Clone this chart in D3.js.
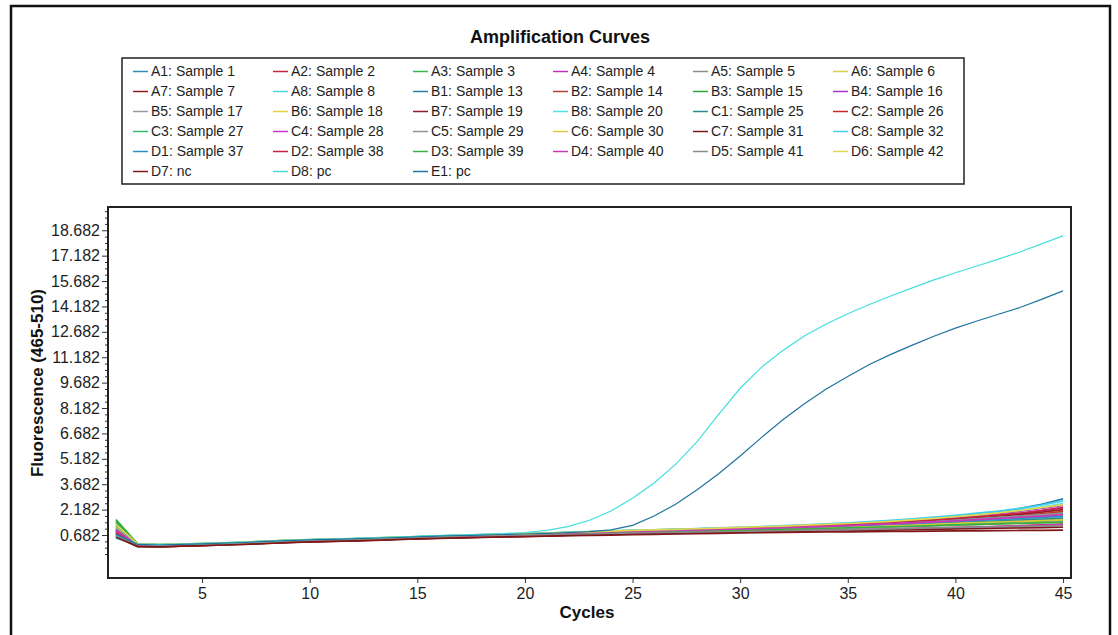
<!DOCTYPE html>
<html>
<head>
<meta charset="utf-8">
<script src="https://cdn.jsdelivr.net/npm/d3@7"></script>
<style>
  html, body { margin: 0; padding: 0; background: #fff; }
  svg { display: block; font-family: Arial, "Liberation Sans", sans-serif; }
  .tk text { font-size: 16px; fill: #1e1e1e; }
  .tk line { stroke: #333; }
  .tk path { display: none; }
</style>
</head>
<body>
<svg id="chart" width="1118" height="635"></svg>
<script>
// cycle numbers and axis ticks
const cycles = [1, 2, 3, 4, 5, 6, 7, 8, 9, 10, 11, 12, 13, 14, 15, 16, 17, 18, 19, 20, 21, 22, 23,
  24, 25, 26, 27, 28, 29, 30, 31, 32, 33, 34, 35, 36, 37, 38, 39, 40, 41, 42, 43, 44, 45];
const xTicks = [5, 10, 15, 20, 25, 30, 35, 40, 45];
const yTicks = [0.682, 2.182, 3.682, 5.182, 6.682, 8.182, 9.682, 11.182, 12.682, 14.182, 15.682, 17.182, 18.682];

const wells = ['A1: Sample 1', 'A2: Sample 2', 'A3: Sample 3', 'A4: Sample 4', 'A5: Sample 5', 'A6: Sample 6',
  'A7: Sample 7', 'A8: Sample 8', 'B1: Sample 13', 'B2: Sample 14', 'B3: Sample 15', 'B4: Sample 16',
  'B5: Sample 17', 'B6: Sample 18', 'B7: Sample 19', 'B8: Sample 20', 'C1: Sample 25', 'C2: Sample 26',
  'C3: Sample 27', 'C4: Sample 28', 'C5: Sample 29', 'C6: Sample 30', 'C7: Sample 31', 'C8: Sample 32',
  'D1: Sample 37', 'D2: Sample 38', 'D3: Sample 39', 'D4: Sample 40', 'D5: Sample 41', 'D6: Sample 42',
  'D7: nc', 'D8: pc', 'E1: pc'];

// fluorescence per cycle, one array per well
const A1 = [1.12, 0.12, 0.08, 0.12, 0.14, 0.19, 0.22, 0.28, 0.33, 0.38, 0.41, 0.43, 0.47, 0.51, 0.56,
  0.59, 0.63, 0.66, 0.69, 0.72, 0.76, 0.8, 0.84, 0.88, 0.92, 0.95, 0.98, 1.01, 1.03, 1.06,
  1.09, 1.12, 1.15, 1.18, 1.22, 1.26, 1.31, 1.37, 1.43, 1.5, 1.58, 1.67, 1.77, 1.88, 2.0];
const A2 = [0.85, 0.05, 0.02, 0.06, 0.09, 0.13, 0.17, 0.22, 0.27, 0.31, 0.34, 0.36, 0.4, 0.44, 0.48,
  0.51, 0.54, 0.57, 0.6, 0.62, 0.65, 0.68, 0.71, 0.74, 0.77, 0.8, 0.82, 0.84, 0.86, 0.88,
  0.9, 0.92, 0.94, 0.96, 0.98, 1.0, 1.03, 1.06, 1.09, 1.12, 1.15, 1.19, 1.23, 1.28, 1.33];
const A3 = [1.3, 0.15, 0.1, 0.14, 0.17, 0.21, 0.25, 0.31, 0.36, 0.4, 0.43, 0.46, 0.5, 0.54, 0.58,
  0.62, 0.66, 0.69, 0.72, 0.75, 0.79, 0.83, 0.87, 0.9, 0.94, 0.97, 1.0, 1.02, 1.04, 1.06,
  1.08, 1.11, 1.14, 1.17, 1.2, 1.24, 1.29, 1.34, 1.4, 1.46, 1.53, 1.6, 1.68, 1.76, 1.85];
const A4 = [0.95, 0.08, 0.04, 0.09, 0.12, 0.16, 0.2, 0.26, 0.31, 0.35, 0.39, 0.41, 0.45, 0.49, 0.53,
  0.57, 0.6, 0.64, 0.67, 0.7, 0.74, 0.78, 0.82, 0.86, 0.9, 0.93, 0.96, 0.99, 1.02, 1.05,
  1.08, 1.12, 1.16, 1.2, 1.25, 1.3, 1.36, 1.43, 1.5, 1.58, 1.67, 1.8, 1.95, 2.12, 2.3];
const A5 = [0.7, 0.1, 0.06, 0.1, 0.13, 0.17, 0.21, 0.27, 0.32, 0.36, 0.4, 0.42, 0.46, 0.5, 0.54,
  0.58, 0.61, 0.65, 0.68, 0.71, 0.74, 0.78, 0.82, 0.85, 0.89, 0.92, 0.95, 0.97, 0.99, 1.01,
  1.03, 1.06, 1.09, 1.12, 1.15, 1.18, 1.22, 1.26, 1.31, 1.36, 1.41, 1.46, 1.51, 1.56, 1.61];
const A6 = [1.45, 0.18, 0.12, 0.15, 0.18, 0.22, 0.26, 0.32, 0.37, 0.41, 0.44, 0.47, 0.51, 0.55, 0.59,
  0.63, 0.67, 0.7, 0.73, 0.76, 0.8, 0.84, 0.88, 0.91, 0.95, 0.98, 1.01, 1.04, 1.07, 1.1,
  1.13, 1.17, 1.21, 1.25, 1.3, 1.35, 1.41, 1.47, 1.54, 1.62, 1.7, 1.79, 1.89, 2.0, 2.12];
const A7 = [0.6, 0.02, -0.01, 0.03, 0.07, 0.11, 0.15, 0.2, 0.25, 0.29, 0.32, 0.35, 0.39, 0.43, 0.47,
  0.5, 0.53, 0.56, 0.59, 0.61, 0.64, 0.67, 0.7, 0.73, 0.76, 0.78, 0.8, 0.82, 0.84, 0.86,
  0.88, 0.9, 0.92, 0.94, 0.96, 0.98, 1.0, 1.03, 1.06, 1.09, 1.12, 1.15, 1.18, 1.21, 1.25];
const A8 = [0.5, 0.12, 0.09, 0.13, 0.16, 0.2, 0.24, 0.29, 0.34, 0.38, 0.42, 0.44, 0.48, 0.52, 0.56,
  0.6, 0.64, 0.67, 0.7, 0.73, 0.77, 0.81, 0.85, 0.88, 0.92, 0.95, 0.98, 1.0, 1.02, 1.04,
  1.06, 1.09, 1.12, 1.15, 1.18, 1.22, 1.26, 1.31, 1.36, 1.42, 1.48, 1.54, 1.6, 1.66, 1.72];
const B1 = [1.0, 0.14, 0.1, 0.13, 0.16, 0.2, 0.24, 0.3, 0.35, 0.39, 0.42, 0.45, 0.49, 0.53, 0.57,
  0.61, 0.65, 0.68, 0.71, 0.74, 0.78, 0.82, 0.86, 0.9, 0.94, 0.97, 1.0, 1.03, 1.06, 1.09,
  1.13, 1.17, 1.22, 1.27, 1.33, 1.39, 1.47, 1.56, 1.66, 1.77, 1.9, 2.05, 2.25, 2.5, 2.82];
const B2 = [0.78, 0.06, 0.03, 0.08, 0.11, 0.15, 0.19, 0.25, 0.3, 0.34, 0.38, 0.4, 0.44, 0.48, 0.52,
  0.56, 0.59, 0.63, 0.66, 0.69, 0.73, 0.77, 0.81, 0.85, 0.88, 0.91, 0.94, 0.97, 1.0, 1.03,
  1.06, 1.1, 1.14, 1.18, 1.23, 1.28, 1.34, 1.4, 1.47, 1.54, 1.61, 1.68, 1.76, 1.85, 1.95];
const B3 = [1.6, 0.16, 0.08, 0.11, 0.14, 0.18, 0.22, 0.28, 0.33, 0.37, 0.4, 0.43, 0.47, 0.51, 0.55,
  0.59, 0.62, 0.66, 0.69, 0.72, 0.75, 0.79, 0.83, 0.86, 0.89, 0.92, 0.94, 0.96, 0.98, 1.0,
  1.02, 1.05, 1.08, 1.11, 1.14, 1.17, 1.21, 1.25, 1.29, 1.33, 1.37, 1.41, 1.45, 1.49, 1.53];
const B4 = [0.88, 0.09, 0.05, 0.1, 0.13, 0.17, 0.21, 0.27, 0.32, 0.36, 0.4, 0.42, 0.46, 0.5, 0.54,
  0.58, 0.62, 0.65, 0.68, 0.71, 0.75, 0.79, 0.83, 0.87, 0.91, 0.94, 0.97, 1.0, 1.04, 1.08,
  1.12, 1.16, 1.21, 1.26, 1.32, 1.38, 1.45, 1.53, 1.62, 1.72, 1.83, 1.95, 2.09, 2.25, 2.43];
const B5 = [0.65, 0.04, 0.01, 0.06, 0.09, 0.13, 0.17, 0.23, 0.28, 0.32, 0.36, 0.38, 0.42, 0.46, 0.5,
  0.54, 0.57, 0.6, 0.63, 0.66, 0.69, 0.72, 0.75, 0.78, 0.81, 0.84, 0.86, 0.88, 0.9, 0.92,
  0.95, 0.98, 1.01, 1.04, 1.07, 1.1, 1.14, 1.18, 1.22, 1.26, 1.3, 1.34, 1.38, 1.42, 1.46];
const B6 = [1.2, 0.13, 0.09, 0.12, 0.15, 0.19, 0.23, 0.29, 0.34, 0.38, 0.41, 0.44, 0.48, 0.52, 0.56,
  0.6, 0.63, 0.67, 0.7, 0.73, 0.76, 0.8, 0.84, 0.88, 0.92, 0.95, 0.98, 1.01, 1.04, 1.07,
  1.1, 1.13, 1.16, 1.2, 1.24, 1.28, 1.33, 1.38, 1.44, 1.5, 1.56, 1.62, 1.68, 1.74, 1.8];
const B7 = [0.92, 0.07, 0.03, 0.07, 0.1, 0.14, 0.18, 0.24, 0.29, 0.33, 0.37, 0.39, 0.43, 0.47, 0.51,
  0.55, 0.58, 0.62, 0.65, 0.68, 0.72, 0.76, 0.8, 0.84, 0.88, 0.91, 0.94, 0.98, 1.02, 1.06,
  1.1, 1.14, 1.18, 1.22, 1.27, 1.32, 1.38, 1.45, 1.52, 1.6, 1.69, 1.79, 1.9, 2.03, 2.18];
const B8 = [0.55, 0.15, 0.11, 0.14, 0.17, 0.21, 0.25, 0.31, 0.36, 0.4, 0.43, 0.46, 0.5, 0.54, 0.58,
  0.62, 0.66, 0.69, 0.72, 0.75, 0.79, 0.83, 0.87, 0.91, 0.95, 0.98, 1.01, 1.05, 1.09, 1.13,
  1.17, 1.21, 1.26, 1.31, 1.37, 1.43, 1.5, 1.58, 1.67, 1.77, 1.88, 2.01, 2.15, 2.32, 2.55];
const C1 = [1.05, 0.11, 0.07, 0.11, 0.14, 0.18, 0.22, 0.28, 0.33, 0.37, 0.41, 0.43, 0.47, 0.51, 0.55,
  0.59, 0.62, 0.66, 0.69, 0.72, 0.76, 0.8, 0.84, 0.87, 0.91, 0.94, 0.97, 0.99, 1.01, 1.03,
  1.05, 1.08, 1.11, 1.14, 1.17, 1.21, 1.25, 1.3, 1.35, 1.41, 1.46, 1.51, 1.56, 1.61, 1.66];
const C2 = [0.75, 0.05, 0.02, 0.07, 0.1, 0.14, 0.18, 0.24, 0.29, 0.33, 0.37, 0.39, 0.43, 0.47, 0.51,
  0.55, 0.58, 0.62, 0.65, 0.68, 0.71, 0.75, 0.79, 0.83, 0.87, 0.9, 0.93, 0.96, 0.99, 1.02,
  1.05, 1.09, 1.13, 1.17, 1.22, 1.27, 1.33, 1.39, 1.46, 1.54, 1.62, 1.71, 1.81, 1.93, 2.07];
const C3 = [1.4, 0.17, 0.1, 0.13, 0.16, 0.2, 0.24, 0.3, 0.35, 0.39, 0.42, 0.45, 0.49, 0.53, 0.57,
  0.61, 0.65, 0.68, 0.71, 0.74, 0.78, 0.82, 0.86, 0.89, 0.93, 0.96, 0.99, 1.02, 1.05, 1.08,
  1.11, 1.15, 1.19, 1.23, 1.28, 1.33, 1.39, 1.45, 1.51, 1.58, 1.65, 1.72, 1.79, 1.86, 1.94];
const C4 = [0.9, 0.06, 0.02, 0.05, 0.08, 0.12, 0.16, 0.21, 0.26, 0.3, 0.33, 0.36, 0.4, 0.44, 0.48,
  0.51, 0.54, 0.57, 0.6, 0.63, 0.66, 0.69, 0.72, 0.75, 0.78, 0.8, 0.82, 0.84, 0.86, 0.88,
  0.9, 0.92, 0.94, 0.96, 0.98, 1.0, 1.03, 1.06, 1.09, 1.12, 1.15, 1.18, 1.21, 1.25, 1.29];
const C5 = [0.82, 0.1, 0.06, 0.1, 0.13, 0.17, 0.21, 0.27, 0.32, 0.36, 0.4, 0.42, 0.46, 0.5, 0.54,
  0.58, 0.61, 0.65, 0.68, 0.71, 0.74, 0.78, 0.82, 0.86, 0.9, 0.93, 0.96, 0.99, 1.02, 1.05,
  1.08, 1.12, 1.16, 1.2, 1.25, 1.3, 1.36, 1.42, 1.49, 1.56, 1.63, 1.71, 1.79, 1.88, 1.98];
const C6 = [1.15, 0.14, 0.09, 0.12, 0.15, 0.19, 0.23, 0.29, 0.34, 0.38, 0.41, 0.44, 0.48, 0.52, 0.56,
  0.6, 0.63, 0.67, 0.7, 0.73, 0.76, 0.8, 0.84, 0.87, 0.9, 0.93, 0.95, 0.97, 0.99, 1.01,
  1.03, 1.06, 1.09, 1.12, 1.15, 1.19, 1.23, 1.27, 1.32, 1.37, 1.41, 1.45, 1.49, 1.53, 1.57];
const C7 = [0.62, 0.0, -0.02, 0.02, 0.06, 0.1, 0.14, 0.19, 0.24, 0.28, 0.31, 0.34, 0.38, 0.42, 0.46,
  0.49, 0.52, 0.55, 0.58, 0.6, 0.63, 0.66, 0.69, 0.72, 0.74, 0.76, 0.78, 0.8, 0.82, 0.84,
  0.86, 0.88, 0.9, 0.92, 0.94, 0.96, 0.98, 1.0, 1.02, 1.04, 1.06, 1.08, 1.1, 1.12, 1.14];
const C8 = [0.6, 0.16, 0.12, 0.15, 0.18, 0.22, 0.26, 0.32, 0.37, 0.41, 0.44, 0.47, 0.51, 0.55, 0.59,
  0.63, 0.67, 0.7, 0.73, 0.76, 0.8, 0.84, 0.88, 0.92, 0.96, 0.99, 1.02, 1.06, 1.1, 1.14,
  1.18, 1.23, 1.28, 1.34, 1.4, 1.47, 1.55, 1.64, 1.74, 1.85, 1.97, 2.1, 2.25, 2.45, 2.7];
const D1 = [1.25, 0.12, 0.07, 0.11, 0.14, 0.18, 0.22, 0.28, 0.33, 0.37, 0.4, 0.43, 0.47, 0.51, 0.55,
  0.59, 0.63, 0.66, 0.69, 0.72, 0.76, 0.8, 0.84, 0.88, 0.91, 0.94, 0.97, 1.0, 1.03, 1.06,
  1.09, 1.12, 1.15, 1.19, 1.23, 1.27, 1.32, 1.37, 1.42, 1.48, 1.54, 1.6, 1.66, 1.72, 1.78];
const D2 = [0.8, 0.08, 0.04, 0.08, 0.11, 0.15, 0.19, 0.25, 0.3, 0.34, 0.38, 0.4, 0.44, 0.48, 0.52,
  0.56, 0.6, 0.63, 0.66, 0.69, 0.73, 0.77, 0.81, 0.85, 0.89, 0.92, 0.95, 0.99, 1.03, 1.07,
  1.11, 1.15, 1.2, 1.25, 1.3, 1.36, 1.43, 1.5, 1.58, 1.66, 1.75, 1.86, 1.98, 2.12, 2.3];
const D3 = [1.5, 0.14, 0.07, 0.1, 0.13, 0.17, 0.21, 0.27, 0.32, 0.36, 0.39, 0.42, 0.46, 0.5, 0.54,
  0.58, 0.61, 0.64, 0.67, 0.7, 0.73, 0.77, 0.8, 0.83, 0.86, 0.89, 0.91, 0.93, 0.95, 0.97,
  0.99, 1.02, 1.05, 1.08, 1.11, 1.14, 1.17, 1.2, 1.24, 1.28, 1.31, 1.34, 1.37, 1.4, 1.43];
const D4 = [0.98, 0.09, 0.05, 0.09, 0.12, 0.16, 0.2, 0.26, 0.31, 0.35, 0.39, 0.41, 0.45, 0.49, 0.53,
  0.57, 0.6, 0.64, 0.67, 0.7, 0.74, 0.78, 0.82, 0.86, 0.89, 0.92, 0.95, 0.98, 1.01, 1.04,
  1.07, 1.11, 1.15, 1.19, 1.24, 1.29, 1.34, 1.4, 1.46, 1.52, 1.59, 1.66, 1.73, 1.8, 1.88];
const D5 = [0.68, 0.03, 0.0, 0.04, 0.08, 0.12, 0.16, 0.21, 0.26, 0.3, 0.34, 0.37, 0.41, 0.45, 0.49,
  0.52, 0.55, 0.58, 0.61, 0.64, 0.67, 0.7, 0.73, 0.76, 0.79, 0.81, 0.83, 0.85, 0.87, 0.89,
  0.91, 0.93, 0.95, 0.97, 0.99, 1.01, 1.04, 1.07, 1.1, 1.13, 1.15, 1.17, 1.19, 1.21, 1.23];
const D6 = [1.3, 0.15, 0.11, 0.14, 0.17, 0.21, 0.25, 0.31, 0.36, 0.4, 0.43, 0.46, 0.5, 0.54, 0.58,
  0.62, 0.66, 0.69, 0.72, 0.75, 0.79, 0.83, 0.87, 0.91, 0.95, 0.98, 1.01, 1.05, 1.09, 1.13,
  1.17, 1.21, 1.26, 1.31, 1.36, 1.42, 1.49, 1.57, 1.66, 1.76, 1.87, 1.99, 2.13, 2.3, 2.48];
const D7 = [0.55, 0.01, -0.02, 0.02, 0.05, 0.09, 0.13, 0.18, 0.23, 0.27, 0.3, 0.33, 0.37, 0.41, 0.45,
  0.48, 0.51, 0.54, 0.57, 0.59, 0.62, 0.64, 0.66, 0.68, 0.7, 0.72, 0.74, 0.76, 0.78, 0.8,
  0.82, 0.84, 0.85, 0.86, 0.87, 0.88, 0.89, 0.9, 0.91, 0.92, 0.93, 0.94, 0.95, 0.96, 0.97];
const D8 = [0.7, 0.14, 0.1, 0.14, 0.17, 0.21, 0.25, 0.31, 0.36, 0.4, 0.44, 0.47, 0.51, 0.55, 0.6,
  0.64, 0.68, 0.72, 0.77, 0.83, 0.95, 1.18, 1.55, 2.1, 2.85, 3.75, 4.85, 6.2, 7.8, 9.35,
  10.6, 11.6, 12.45, 13.15, 13.75, 14.3, 14.8, 15.28, 15.75, 16.17, 16.57, 16.98, 17.4, 17.88, 18.35];
const E1 = [0.72, 0.13, 0.09, 0.13, 0.16, 0.2, 0.24, 0.3, 0.35, 0.39, 0.42, 0.45, 0.49, 0.53, 0.57,
  0.61, 0.65, 0.68, 0.71, 0.74, 0.78, 0.82, 0.88, 0.98, 1.25, 1.8, 2.5, 3.35, 4.3, 5.35,
  6.45, 7.5, 8.45, 9.3, 10.05, 10.75, 11.35, 11.9, 12.42, 12.9, 13.32, 13.72, 14.12, 14.6, 15.1];

const series = [A1, A2, A3, A4, A5, A6, A7, A8, B1, B2, B3, B4, B5, B6, B7, B8,
  C1, C2, C3, C4, C5, C6, C7, C8, D1, D2, D3, D4, D5, D6, D7, D8, E1];

const colors = ['#2d8db4', '#c42a3a', '#33b552', '#c030c0', '#8c8c8c', '#dccf4a', '#8a1c24', '#4ad8e4',
  '#2a7ea6', '#b8402c', '#2aa838', '#a833c8', '#999999', '#e6d040', '#901a30', '#52e0e8',
  '#2a8a90', '#cc2a2a', '#30c070', '#d030d0', '#939393', '#d8cc3c', '#7c1418', '#40d0f0',
  '#2a90c8', '#c82040', '#38b040', '#c838b8', '#8a8a8a', '#e0d850', '#801818', '#44dede', '#1f74a0'];

const svg = d3.select('#chart');
const P = { l: 108, t: 207, r: 1071, b: 578 };

// outer frame (runs off the bottom of the picture)
svg.append('rect').attr('x', 11).attr('y', 6).attr('width', 1099).attr('height', 660)
  .attr('fill', '#fff').attr('stroke', '#111').attr('stroke-width', 2.5);

svg.append('text').attr('x', 560).attr('y', 43).attr('text-anchor', 'middle')
  .style('font-size', '18px').style('font-weight', 'bold').attr('fill', '#111')
  .text('Amplification Curves');

// legend, 6 columns
const lg = svg.append('g');
lg.append('rect').attr('x', 122).attr('y', 58).attr('width', 842).attr('height', 126)
  .attr('fill', '#fff').attr('stroke', '#222').attr('stroke-width', 1.5);
const item = lg.selectAll('g.it').data(wells).join('g').attr('class', 'it')
  .attr('transform', (d, i) => `translate(${133 + (i % 6) * 140},${71 + Math.floor(i / 6) * 20})`);
item.append('line').attr('x1', 0).attr('x2', 15).attr('y1', 0.5).attr('y2', 0.5)
  .attr('stroke', (d, i) => colors[i]).attr('stroke-width', 1.5);
item.append('text').attr('x', 18).attr('y', 5).style('font-size', '14px').attr('fill', '#1e1e1e')
  .text((d) => d);

const x = d3.scaleLinear().domain([0.63, 45.37]).range([P.l, P.r]);
const y = d3.scaleLinear().domain([-1.858, 20.056]).range([P.b, P.t]);

// minor y ticks every 0.375 between the labelled ones
const yMinor = d3.range(-0.443, 20, 0.375).filter((v) => !yTicks.some((t) => Math.abs(t - v) < 0.01));
svg.append('g').attr('class', 'tk').attr('transform', `translate(${P.l},0)`)
  .call(d3.axisLeft(y).tickValues(yMinor).tickSize(3).tickFormat(''));
svg.append('g').attr('class', 'tk').attr('transform', `translate(${P.l},0)`)
  .call(d3.axisLeft(y).tickValues(yTicks).tickSize(6).tickPadding(2).tickFormat(d3.format('.3f')));
svg.append('g').attr('class', 'tk').attr('transform', `translate(0,${P.b})`)
  .call(d3.axisBottom(x).tickValues(xTicks).tickSize(5).tickPadding(5));

// flat wells drawn a bit heavier, like the bundled traces in the original
const line = d3.line().x((d, i) => x(cycles[i])).y((d) => y(d));
svg.append('g').selectAll('path').data(series).join('path')
  .attr('d', line).attr('fill', 'none')
  .attr('stroke', (d, i) => colors[i])
  .attr('stroke-width', (d) => (d3.max(d) > 5 ? 1.2 : 1.7));

svg.append('rect').attr('x', P.l).attr('y', P.t).attr('width', P.r - P.l).attr('height', P.b - P.t)
  .attr('fill', 'none').attr('stroke', '#222').attr('stroke-width', 2);

svg.append('text').attr('x', 587).attr('y', 618).attr('text-anchor', 'middle')
  .style('font-size', '17px').style('font-weight', 'bold').attr('fill', '#111').text('Cycles');
svg.append('text').attr('transform', 'translate(43,383) rotate(-90)').attr('text-anchor', 'middle')
  .style('font-size', '17px').style('font-weight', 'bold').attr('fill', '#111')
  .text('Fluorescence (465-510)');
</script>
</body>
</html>
